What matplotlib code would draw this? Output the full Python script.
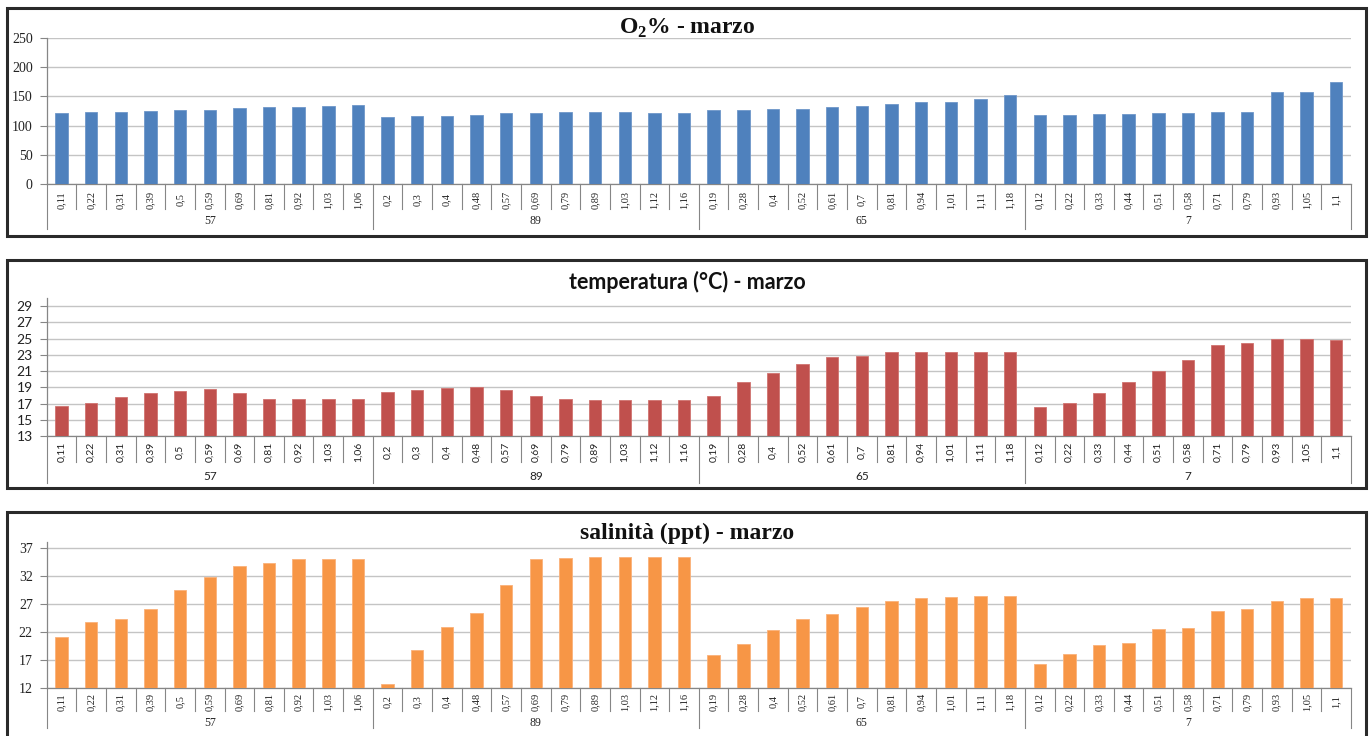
import numpy as np
import matplotlib
matplotlib.use('Agg')
import matplotlib.pyplot as plt
import matplotlib.transforms as mtransforms
from matplotlib.patches import Rectangle

plt.rcParams['mathtext.fontset'] = 'custom'
plt.rcParams['mathtext.rm'] = 'Liberation Serif'
plt.rcParams['mathtext.bf'] = 'Liberation Serif:bold'

# stations and sampling depths
stations = ['57', '89', '65', '7']
depths = [
    ['0,11', '0,22', '0,31', '0,39', '0,5', '0,59', '0,69', '0,81', '0,92', '1,03', '1,06'],
    ['0,2', '0,3', '0,4', '0,48', '0,57', '0,69', '0,79', '0,89', '1,03', '1,12', '1,16'],
    ['0,19', '0,28', '0,4', '0,52', '0,61', '0,7', '0,81', '0,94', '1,01', '1,11', '1,18'],
    ['0,12', '0,22', '0,33', '0,44', '0,51', '0,58', '0,71', '0,79', '0,93', '1,05', '1,1'],
]

o2 = [122, 123, 124, 125, 126, 127, 130, 132, 132, 134, 135,
      115, 117, 117, 119, 122, 122, 123, 123, 123, 122, 122,
      126, 127, 128, 129, 131, 133, 137, 141, 141, 146, 152,
      118, 119, 120, 120, 122, 122, 124, 124, 158, 158, 175]

temp = [16.7, 17.1, 17.8, 18.3, 18.6, 18.8, 18.3, 17.6, 17.5, 17.5, 17.6,
        18.4, 18.7, 18.9, 19.0, 18.7, 17.9, 17.5, 17.4, 17.4, 17.4, 17.4,
        17.9, 19.6, 20.8, 21.9, 22.7, 22.8, 23.4, 23.4, 23.4, 23.3, 23.3,
        16.6, 17.1, 18.3, 19.6, 21.0, 22.4, 24.2, 24.5, 24.9, 24.9, 24.8]

sal = [21.1, 23.7, 24.2, 26.1, 29.4, 31.7, 33.8, 34.2, 34.9, 34.9, 34.9,
       12.8, 18.7, 22.9, 25.4, 30.3, 34.9, 35.2, 35.4, 35.4, 35.4, 35.4,
       17.9, 19.9, 22.3, 24.2, 25.1, 26.5, 27.5, 28.1, 28.2, 28.4, 28.4,
       16.3, 18.0, 19.6, 20.0, 22.5, 22.6, 25.7, 26.1, 27.5, 28.0, 28.0]

W, H = 1371, 736
fig = plt.figure(figsize=(W / 100, H / 100), dpi=100)
fig.patch.set_facecolor('white')

labels = [d for grp in depths for d in grp]
n = len(labels)
axis_col = '#868686'


def panel(border, box, vals, color, edge, title, ttl_y, ylim, yticks, font,
          cat_len, grp_len, lab_off, grp_off, title_size):
    l, t, r, b = border
    fig.add_artist(Rectangle((l / W, 1 - b / H), (r - l) / W, (b - t) / H,
                             transform=fig.transFigure, fill=False,
                             ec='#2a2a2a', lw=2.2))
    al, at, ar, ab = box
    ax = fig.add_axes([al / W, 1 - ab / H, (ar - al) / W, (ab - at) / H])
    x = np.arange(n)
    ax.bar(x, vals, width=0.42, color=color, edgecolor=edge, lw=0.6, zorder=3)
    ax.set_xlim(-0.5, n - 0.5)
    ax.set_ylim(*ylim)
    ax.set_yticks(yticks)
    ax.grid(axis='y', color='#c4c4c4', lw=1)
    ax.set_axisbelow(True)
    for s in ['top', 'right']:
        ax.spines[s].set_visible(False)
    for s in ['left', 'bottom']:
        ax.spines[s].set_color(axis_col)
        ax.spines[s].set_linewidth(0.9)
    ax.set_xticks([])
    ax.tick_params(axis='y', length=5, color=axis_col, labelsize=10, pad=5,
                   labelcolor='#222')
    for lab in ax.get_yticklabels():
        lab.set_fontfamily(font)

    h = ab - at
    trans = mtransforms.blended_transform_factory(ax.transData, ax.transAxes)
    off = mtransforms.offset_copy(trans, fig=fig, y=-lab_off, units='dots')
    for i, lab in enumerate(labels):
        ax.text(i, 0, lab, transform=off, rotation=90, ha='center', va='center',
                fontsize=7.5, family=font, color='#222', clip_on=False)
    for i in range(n + 1):
        ln = grp_len if i % 11 == 0 else cat_len
        ax.plot([i - 0.5, i - 0.5], [0, -ln / h], transform=trans,
                color=axis_col, lw=0.8, clip_on=False)
    goff = mtransforms.offset_copy(trans, fig=fig, y=-grp_off, units='dots')
    for g, st in enumerate(stations):
        ax.text(g * 11 + 5, 0, st, transform=goff, ha='center', va='center',
                fontsize=8.5, family=font, color='#222', clip_on=False)

    fig.text(687 / W, 1 - ttl_y / H, title, ha='center', va='center',
             fontsize=title_size, fontweight='bold', family=font, color='#111')
    return ax


panel((6.7, 8.3, 1366, 235.5), (46.7, 38, 1351, 184), o2, '#4f81bd', '#6f97c9',
      r'O$_\mathbf{2}$% - marzo', 28, (0, 250), [0, 50, 100, 150, 200, 250],
      'Liberation Serif', 25, 45, 16, 37, 17)

panel((6.7, 260, 1366, 488), (46.7, 298, 1351, 436), temp, '#c0504d', '#d07370',
      'temperatura (°C) - marzo', 281.5, (13, 30), list(range(13, 30, 2)),
      'Lato', 26, 47, 16, 40, 15.5)

panel((6.7, 512, 1366, 746), (46.7, 542, 1351, 688), sal, '#f79646', '#fab17a',
      'salinità (ppt) - marzo', 533, (12, 38), [12, 17, 22, 27, 32, 37],
      'Liberation Serif', 23, 40, 14, 35, 17)

fig.savefig('out.png', dpi=100, facecolor='white')
